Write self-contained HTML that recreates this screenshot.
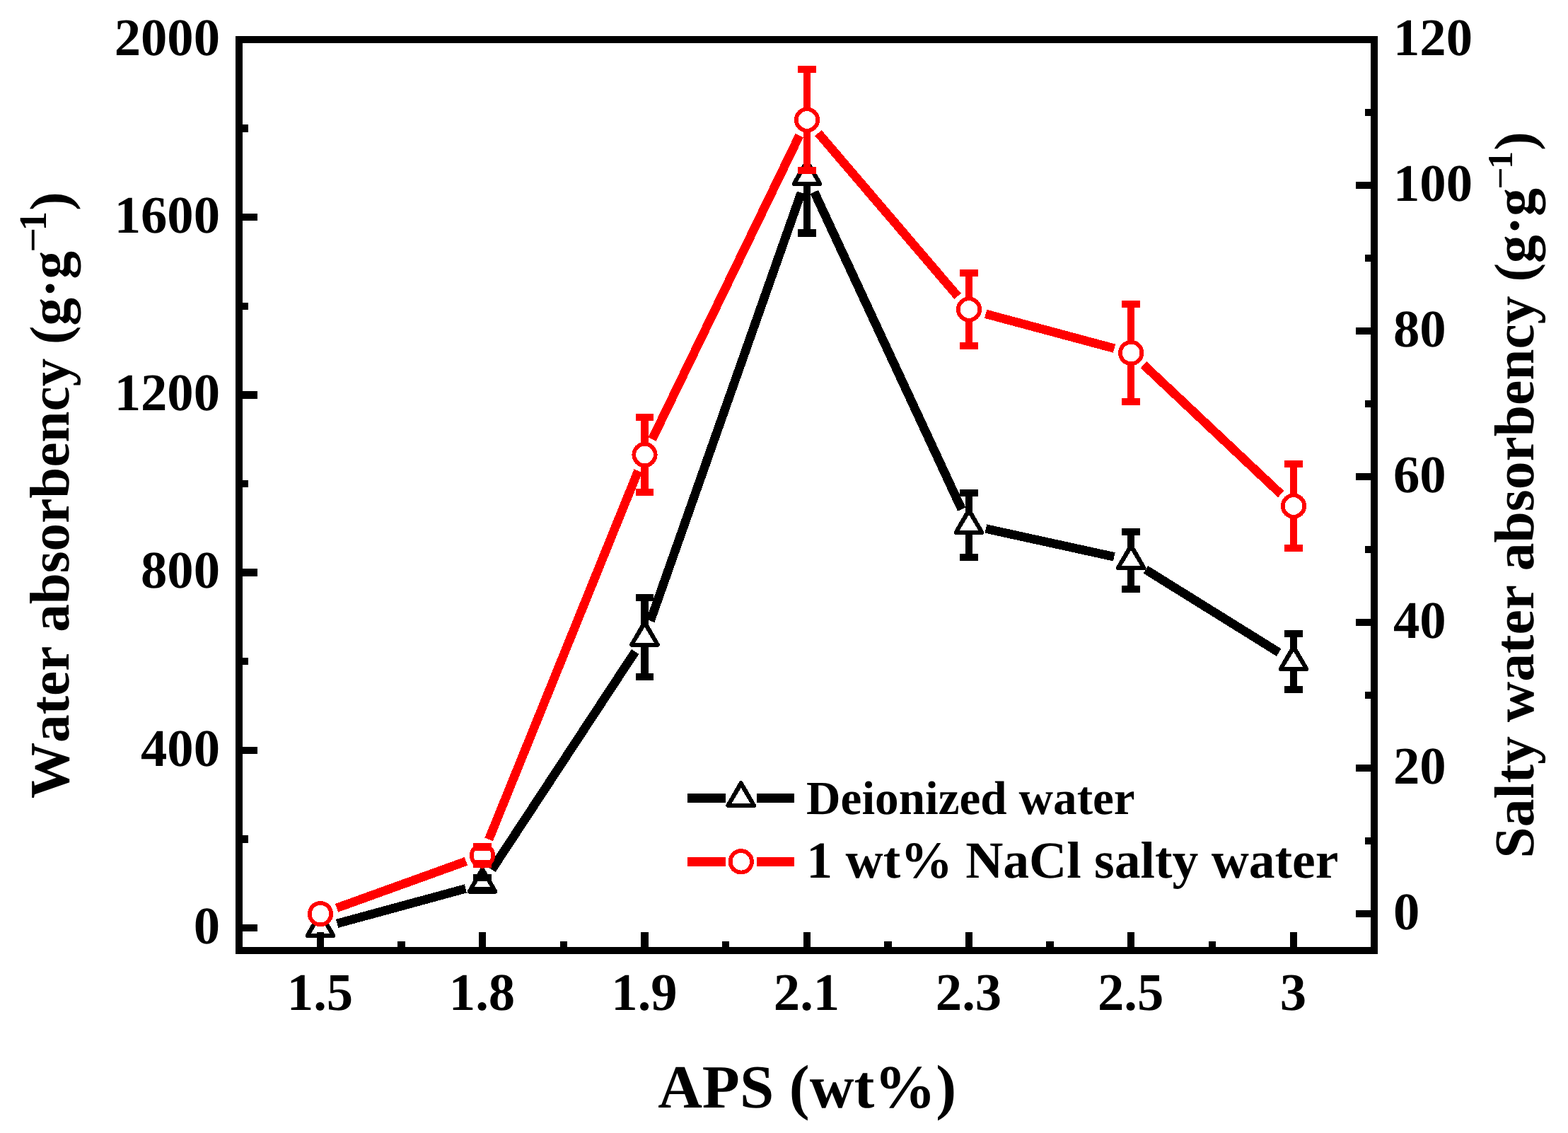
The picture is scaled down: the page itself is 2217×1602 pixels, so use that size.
<!DOCTYPE html>
<html lang="en">
<head>
<meta charset="utf-8">
<title>Water absorbency vs APS (wt%)</title>
<style>
html,body{margin:0;padding:0;background:#fff;}
body{width:2217px;height:1602px;overflow:hidden;}
svg{display:block;}
text{white-space:pre;text-rendering:geometricPrecision;font-kerning:none;}
</style>
</head>
<body>
<svg width="2217" height="1602" viewBox="0 0 2217 1602" shape-rendering="crispEdges">
<rect width="2217" height="1602" fill="#fff"/>
<g id="black-series"><line x1="476.64" y1="1305.87" x2="658.36" y2="1256.43" stroke="#000" stroke-width="12.5"/>
<line x1="695.46" y1="1229.53" x2="898.04" y2="921.47" stroke="#000" stroke-width="12.5"/>
<line x1="919.64" y1="877.89" x2="1132.86" y2="272.41" stroke="#000" stroke-width="12.5"/>
<line x1="1151.32" y1="271.52" x2="1359.68" y2="720.08" stroke="#000" stroke-width="12.5"/>
<line x1="1393.93" y1="747.54" x2="1575.27" y2="787.26" stroke="#000" stroke-width="12.5"/>
<line x1="1620" y1="805.44" x2="1808.2" y2="922.56" stroke="#000" stroke-width="12.5"/>
<rect x="676.79" y="1241" width="10.42" height="18" fill="#000"/>
<rect x="906.29" y="845" width="10.42" height="112" fill="#000"/>
<rect x="1135.79" y="169.1" width="10.42" height="160.4" fill="#000"/>
<rect x="1364.79" y="696.8" width="10.42" height="91" fill="#000"/>
<rect x="1593.99" y="752" width="10.42" height="81" fill="#000"/>
<rect x="1823.79" y="896" width="10.42" height="79" fill="#000"/>
<polygon points="453,1290.94 434.5,1322.98 471.5,1322.98" fill="#000" stroke="#000" stroke-width="5.8" stroke-linejoin="round"/><polygon points="453,1298 439.65,1320.05 466.35,1320.05" fill="#fff"/>
<polygon points="682,1228.64 663.5,1260.68 700.5,1260.68" fill="#000" stroke="#000" stroke-width="5.8" stroke-linejoin="round"/><polygon points="682,1235.7 668.65,1257.75 695.35,1257.75" fill="#fff"/>
<polygon points="911.5,879.64 893,911.68 930,911.68" fill="#000" stroke="#000" stroke-width="5.8" stroke-linejoin="round"/><polygon points="911.5,886.7 898.15,908.75 924.85,908.75" fill="#fff"/>
<polygon points="1141,227.94 1122.5,259.98 1159.5,259.98" fill="#000" stroke="#000" stroke-width="5.8" stroke-linejoin="round"/><polygon points="1141,235 1127.65,257.05 1154.35,257.05" fill="#fff"/>
<polygon points="1370,720.94 1351.5,752.98 1388.5,752.98" fill="#000" stroke="#000" stroke-width="5.8" stroke-linejoin="round"/><polygon points="1370,728 1356.65,750.05 1383.35,750.05" fill="#fff"/>
<polygon points="1599.2,771.14 1580.7,803.18 1617.7,803.18" fill="#000" stroke="#000" stroke-width="5.8" stroke-linejoin="round"/><polygon points="1599.2,778.2 1585.85,800.25 1612.55,800.25" fill="#fff"/>
<polygon points="1829,914.14 1810.5,946.18 1847.5,946.18" fill="#000" stroke="#000" stroke-width="5.8" stroke-linejoin="round"/><polygon points="1829,921.2 1815.65,943.25 1842.35,943.25" fill="#fff"/>
<rect x="669.25" y="1235.79" width="25.5" height="10.42" fill="#000"/>
<rect x="669.25" y="1253.79" width="25.5" height="10.42" fill="#000"/>
<rect x="898.75" y="839.79" width="25.5" height="10.42" fill="#000"/>
<rect x="898.75" y="951.79" width="25.5" height="10.42" fill="#000"/>
<rect x="1128.25" y="163.89" width="25.5" height="10.42" fill="#000"/>
<rect x="1128.25" y="324.29" width="25.5" height="10.42" fill="#000"/>
<rect x="1357.25" y="691.59" width="25.5" height="10.42" fill="#000"/>
<rect x="1357.25" y="782.59" width="25.5" height="10.42" fill="#000"/>
<rect x="1586.45" y="746.79" width="25.5" height="10.42" fill="#000"/>
<rect x="1586.45" y="827.79" width="25.5" height="10.42" fill="#000"/>
<rect x="1816.25" y="890.79" width="25.5" height="10.42" fill="#000"/>
<rect x="1816.25" y="969.79" width="25.5" height="10.42" fill="#000"/></g>
<g id="red-series"><line x1="476.05" y1="1283.8" x2="658.95" y2="1217.9" stroke="#f00" stroke-width="12.5"/>
<line x1="691.2" y1="1186.89" x2="902.3" y2="665.71" stroke="#f00" stroke-width="12.5"/>
<line x1="922.19" y1="620.95" x2="1130.31" y2="191.55" stroke="#f00" stroke-width="12.5"/>
<line x1="1156.92" y1="188.13" x2="1354.08" y2="418.87" stroke="#f00" stroke-width="12.5"/>
<line x1="1393.66" y1="443.85" x2="1575.54" y2="492.65" stroke="#f00" stroke-width="12.5"/>
<line x1="1617.03" y1="515.8" x2="1811.17" y2="698.7" stroke="#f00" stroke-width="12.5"/>
<rect x="676.79" y="1197.6" width="10.42" height="24" fill="#f00"/>
<rect x="906.29" y="590" width="10.42" height="106" fill="#f00"/>
<rect x="1135.79" y="98" width="10.42" height="143" fill="#f00"/>
<rect x="1364.79" y="386" width="10.42" height="103" fill="#f00"/>
<rect x="1593.99" y="430" width="10.42" height="138" fill="#f00"/>
<rect x="1823.79" y="656" width="10.42" height="119" fill="#f00"/>
<circle cx="453" cy="1292.1" r="15.2" fill="#fff" stroke="#f00" stroke-width="5.8"/>
<circle cx="682" cy="1209.6" r="15.2" fill="#fff" stroke="#f00" stroke-width="5.8"/>
<circle cx="911.5" cy="643" r="15.2" fill="#fff" stroke="#f00" stroke-width="5.8"/>
<circle cx="1141" cy="169.5" r="15.2" fill="#fff" stroke="#f00" stroke-width="5.8"/>
<circle cx="1370" cy="437.5" r="15.2" fill="#fff" stroke="#f00" stroke-width="5.8"/>
<circle cx="1599.2" cy="499" r="15.2" fill="#fff" stroke="#f00" stroke-width="5.8"/>
<circle cx="1829" cy="715.5" r="15.2" fill="#fff" stroke="#f00" stroke-width="5.8"/>
<rect x="669.25" y="1192.39" width="25.5" height="10.42" fill="#f00"/>
<rect x="669.25" y="1216.39" width="25.5" height="10.42" fill="#f00"/>
<rect x="898.75" y="584.79" width="25.5" height="10.42" fill="#f00"/>
<rect x="898.75" y="690.79" width="25.5" height="10.42" fill="#f00"/>
<rect x="1128.25" y="92.79" width="25.5" height="10.42" fill="#f00"/>
<rect x="1128.25" y="235.79" width="25.5" height="10.42" fill="#f00"/>
<rect x="1357.25" y="380.79" width="25.5" height="10.42" fill="#f00"/>
<rect x="1357.25" y="483.79" width="25.5" height="10.42" fill="#f00"/>
<rect x="1586.45" y="424.79" width="25.5" height="10.42" fill="#f00"/>
<rect x="1586.45" y="562.79" width="25.5" height="10.42" fill="#f00"/>
<rect x="1816.25" y="650.79" width="25.5" height="10.42" fill="#f00"/>
<rect x="1816.25" y="769.79" width="25.5" height="10.42" fill="#f00"/></g>
<g id="axes" fill="#000"><rect x="338" y="56" width="1605" height="1288" fill="none" stroke="#000" stroke-width="10.42"/>
<rect x="338" y="1306.79" width="26" height="10.42"/>
<rect x="338" y="1181.19" width="13" height="10.42"/>
<rect x="338" y="1055.59" width="26" height="10.42"/>
<rect x="338" y="929.99" width="13" height="10.42"/>
<rect x="338" y="804.39" width="26" height="10.42"/>
<rect x="338" y="678.79" width="13" height="10.42"/>
<rect x="338" y="553.19" width="26" height="10.42"/>
<rect x="338" y="427.59" width="13" height="10.42"/>
<rect x="338" y="301.99" width="26" height="10.42"/>
<rect x="338" y="176.39" width="13" height="10.42"/>
<rect x="338" y="50.79" width="26" height="10.42"/>
<rect x="1917" y="1286.79" width="26" height="10.42"/>
<rect x="1930" y="1183.79" width="13" height="10.42"/>
<rect x="1917" y="1080.79" width="26" height="10.42"/>
<rect x="1930" y="977.79" width="13" height="10.42"/>
<rect x="1917" y="874.79" width="26" height="10.42"/>
<rect x="1930" y="771.79" width="13" height="10.42"/>
<rect x="1917" y="668.79" width="26" height="10.42"/>
<rect x="1930" y="565.79" width="13" height="10.42"/>
<rect x="1917" y="462.79" width="26" height="10.42"/>
<rect x="1930" y="359.79" width="13" height="10.42"/>
<rect x="1917" y="256.79" width="26" height="10.42"/>
<rect x="1930" y="153.79" width="13" height="10.42"/>
<rect x="1917" y="50.79" width="26" height="10.42"/>
<rect x="447.79" y="1318" width="10.42" height="26"/>
<rect x="562.29" y="1331" width="10.42" height="13"/>
<rect x="676.79" y="1318" width="10.42" height="26"/>
<rect x="791.54" y="1331" width="10.42" height="13"/>
<rect x="906.29" y="1318" width="10.42" height="26"/>
<rect x="1021.04" y="1331" width="10.42" height="13"/>
<rect x="1135.79" y="1318" width="10.42" height="26"/>
<rect x="1250.29" y="1331" width="10.42" height="13"/>
<rect x="1364.79" y="1318" width="10.42" height="26"/>
<rect x="1479.39" y="1331" width="10.42" height="13"/>
<rect x="1593.99" y="1318" width="10.42" height="26"/>
<rect x="1708.89" y="1331" width="10.42" height="13"/>
<rect x="1823.79" y="1318" width="10.42" height="26"/></g>
<g id="legend" font-family="'Liberation Serif','DejaVu Serif',serif" font-weight="bold" fill="#000"><rect x="972" y="1122" width="54" height="13" fill="#000"/><rect x="1070" y="1122" width="53" height="13" fill="#000"/>
<polygon points="1047.7,1107.04 1029.2,1139.08 1066.2,1139.08" fill="#000" stroke="#000" stroke-width="5.8" stroke-linejoin="round"/><polygon points="1047.7,1114.1 1034.35,1136.15 1061.05,1136.15" fill="#fff"/>
<rect x="972" y="1212" width="54" height="13" fill="#f00"/><rect x="1070" y="1212" width="53" height="13" fill="#f00"/>
<circle cx="1047.8" cy="1218.3" r="15.2" fill="#fff" stroke="#f00" stroke-width="5.8"/>
<text x="1140.1" y="1150.7" font-size="67.2">Deionized water</text>
<text x="1140.3" y="1240.9" font-size="73.6">1 wt% NaCl salty water</text></g>
<g id="labels" font-family="'Liberation Serif','DejaVu Serif',serif" font-weight="bold" fill="#000"><g id="left-ticks" font-size="74.7" text-anchor="end">
<text x="311" y="1333.7">0</text>
<text x="311" y="1082.5">400</text>
<text x="311" y="831.3">800</text>
<text x="311" y="580.1">1200</text>
<text x="311" y="328.9">1600</text>
<text x="311" y="77.7">2000</text>
</g>
<g id="right-ticks" font-size="74.7" text-anchor="start">
<text x="1970" y="1313.7">0</text>
<text x="1970" y="1107.7">20</text>
<text x="1970" y="901.7">40</text>
<text x="1970" y="695.7">60</text>
<text x="1970" y="489.7">80</text>
<text x="1970" y="283.7">100</text>
<text x="1970" y="77.7">120</text>
</g>
<g id="x-ticks" font-size="74.7" text-anchor="middle">
<text x="452.5" y="1428.2">1.5</text>
<text x="681.5" y="1428.2">1.8</text>
<text x="911" y="1428.2">1.9</text>
<text x="1140.5" y="1428.2">2.1</text>
<text x="1369.5" y="1428.2">2.3</text>
<text x="1598.7" y="1428.2">2.5</text>
<text x="1828.5" y="1428.2">3</text>
</g>
<text id="x-title" x="930.2" y="1565.6" font-size="86.8">APS (wt%)</text>
<g id="y-title-left" transform="translate(97.2 0) rotate(-90)">
<text x="-1129.1" y="0" font-size="79.2">Water absorbency (g·g</text>
<text transform="translate(-357.08 -32.3) scale(1.13 1)" font-size="55">−</text>
<text x="-326.43" y="-32.3" font-size="55">1</text>
<text x="-297.7" y="0" font-size="79.2">)</text>
</g>
<g id="y-title-right" transform="translate(2168.2 0) rotate(-90)">
<text x="-1213.4" y="0" font-size="79.5">Salty water absorbency (g·g</text>
<text transform="translate(-267.82 -30.3) scale(1.11 1)" font-size="49.8">−</text>
<text x="-238.86" y="-30.3" font-size="49.8">1</text>
<text x="-212.68" y="0" font-size="79.5">)</text>
</g></g>
</svg>
</body>
</html>
